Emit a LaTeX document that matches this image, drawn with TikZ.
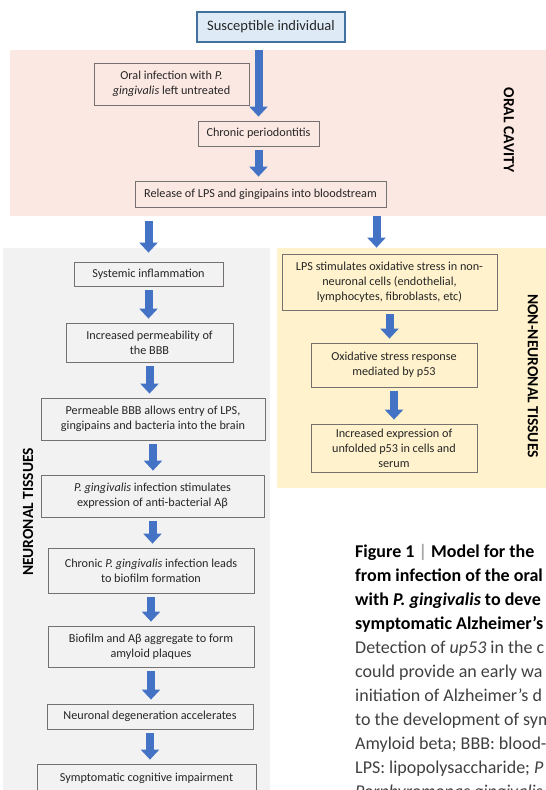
\documentclass[tikz,border=0pt]{standalone}
\usepackage{fontspec}
\setmainfont{Carlito}
\usepackage{xcolor}
\usetikzlibrary{arrows.meta}
\definecolor{oralpink}{HTML}{FCE8E2}
\definecolor{neurogray}{HTML}{F2F2F2}
\definecolor{nonneuroyellow}{HTML}{FFF2CC}
\definecolor{startblue}{HTML}{DEEBF7}
\definecolor{startedge}{HTML}{41719C}
\definecolor{flowblue}{HTML}{4472C4}
\definecolor{boxedge}{HTML}{767171}
\definecolor{captiontext}{HTML}{404040}
\tikzstyle{stage} = [rectangle, draw=boxedge, line width=0.8pt, align=center, inner sep=1pt, text=black!85, font=\fontsize{12.2}{15}\selectfont]
\tikzstyle{start} = [rectangle, draw=startedge, fill=startblue, line width=1.2pt, align=center, inner sep=1pt, text=black!85, font=\fontsize{14.5}{16}\selectfont]
\tikzstyle{region} = [font=\bfseries\fontsize{15.5}{17}\selectfont, text=black]
\tikzstyle{flow} = [draw=flowblue, line width=8pt, -{Triangle[width=18pt,length=10pt]}, shorten <=4pt, shorten >=4pt]

\begin{document}
\begin{tikzpicture}[x=1pt, y=-1pt]
		\useasboundingbox (0,0) rectangle (546,790);
		\clip (0,0) rectangle (546,790);
		% background areas
		\fill[oralpink] (10,50) rectangle (546,216);
		\fill[neurogray] (3,248) rectangle (270,800);
		\fill[nonneuroyellow] (277,248) rectangle (546,488);
		\node (oralLabel) [region, rotate=-90] at (509,130) {ORAL CAVITY};
		\node (neuroLabel) [region, rotate=90] at (28,512) {NEURONAL TISSUES};
		\node (nonNeuroLabel) [region, rotate=-90] at (533,376) {NON-NEURONAL TISSUES};
		% oral cavity
		\node (sus) [start, minimum width=148pt, minimum height=30pt] at (271,27) {Susceptible individual};
		\node (oral) [stage, minimum width=155pt, minimum height=42pt] at (171.5,84) {Oral infection with \textit{P.}\\\textit{gingivalis} left untreated};
		\node (chron) [stage, minimum width=121pt, minimum height=25pt] at (258.5,133.5) {Chronic periodontitis};
		\node (rel) [stage, minimum width=251pt, minimum height=26pt] at (260.5,194) {Release of LPS and gingipains into bloodstream};
		% neuronal tissues
		\node (sys) [stage, minimum width=149pt, minimum height=24pt] at (148.5,274) {Systemic inflammation};
		\node (perm) [stage, minimum width=167pt, minimum height=39pt] at (149.5,342.5) {Increased permeability of\\the BBB};
		\node (entry) [stage, minimum width=224pt, minimum height=42pt] at (153,419) {Permeable BBB allows entry of LPS,\\gingipains and bacteria into the brain};
		\node (abeta) [stage, minimum width=223pt, minimum height=42pt] at (152.5,496) {\textit{P. gingivalis} infection stimulates\\expression of anti-bacterial Aβ};
		\node (biof) [stage, minimum width=206pt, minimum height=45pt] at (151,570.5) {Chronic \textit{P. gingivalis} infection leads\\to biofilm formation};
		\node (plaq) [stage, minimum width=206pt, minimum height=41pt] at (151,646.5) {Biofilm and Aβ aggregate to form\\amyloid plaques};
		\node (degen) [stage, minimum width=206pt, minimum height=25pt] at (150,716.5) {Neuronal degeneration accelerates};
		\node (sympt) [stage, minimum width=219pt, minimum height=28pt] at (146.5,778) {Symptomatic cognitive impairment};
		% non-neuronal tissues
		\node (lps) [stage, minimum width=215pt, minimum height=56pt] at (389.5,282) {LPS stimulates oxidative stress in non-\\neuronal cells (endothelial,\\lymphocytes, fibroblasts, etc)};
		\node (oxi) [stage, minimum width=166pt, minimum height=44pt] at (394,365) {Oxidative stress response\\mediated by p53};
		\node (incr) [stage, minimum width=166pt, minimum height=48pt] at (394,448) {Increased expression of\\unfolded p53 in cells and\\serum};
		% caption
		\node (caption) [anchor=base west, align=left, inner sep=0pt, text=captiontext, font=\fontsize{18}{24}\selectfont] at (355,797) {{\bfseries\color{black}Figure 1 \textcolor{black!35}{\textbar} Model for the}\\{\bfseries\color{black}from infection of the oral}\\{\bfseries\color{black}with \textit{P. gingivalis} to deve}\\{\bfseries\color{black}symptomatic Alzheimer's}\\Detection of \textit{up53} in the c\\could provide an early wa\\initiation of Alzheimer's d\\to the development of sym\\Amyloid beta; BBB: blood-\\LPS: lipopolysaccharide; \textit{P}\\\textit{Porphyromonas gingivalis}};
		% arrows
		\draw[flow, shorten <=7pt] (sus.south -| chron.north) -- (chron.north);
		\draw[flow] (chron.south) -- (chron.south |- rel.north);
		\draw[flow, shorten <=14pt, shorten >=9pt] (rel.south -| sys.north) -- (sys.north);
		\draw[flow, shorten <=9pt, shorten >=6pt] ([xshift=-13pt]lps.north |- rel.south) -- ([xshift=-13pt]lps.north);
		\draw[flow] (sys.south) -- (sys.south |- perm.north);
		\draw[flow] (perm.south) -- (perm.south |- entry.north);
		\draw[flow] (entry.south) -- (entry.south |- abeta.north);
		\draw[flow] (abeta.south) -- (abeta.south |- biof.north);
		\draw[flow] (biof.south) -- (biof.south |- plaq.north);
		\draw[flow] (plaq.south) -- (plaq.south |- degen.north);
		\draw[flow] (degen.south) -- (degen.south |- sympt.north);
		\draw[flow] (lps.south) -- (lps.south |- oxi.north);
		\draw[flow] (oxi.south) -- (oxi.south |- incr.north);
	\end{tikzpicture}
\end{document}
